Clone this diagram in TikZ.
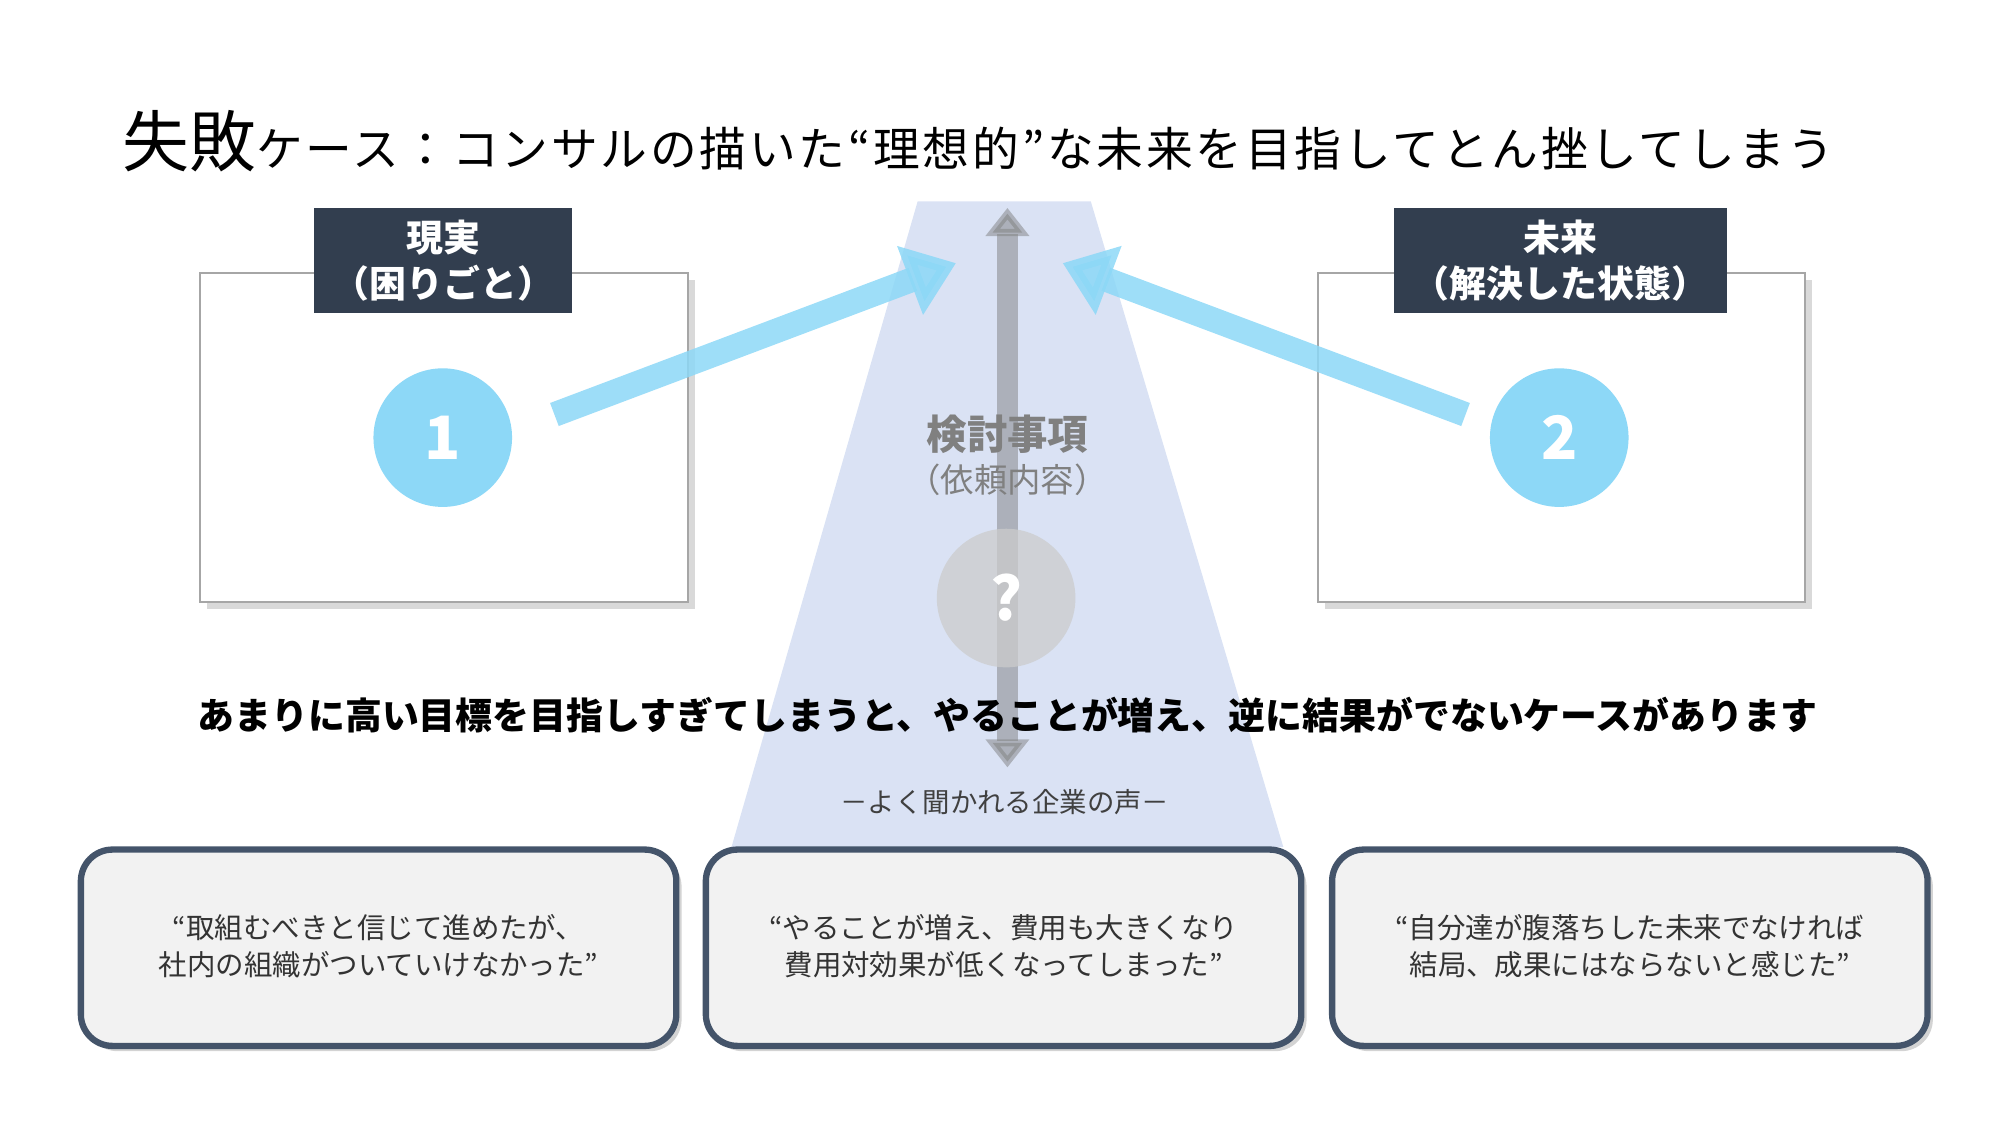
\documentclass[tikz,border=0pt]{standalone}
\usepackage{fontspec}
\setmainfont{Noto Sans CJK JP}
\newfontfamily\titlefont[LetterSpace=6]{Noto Sans CJK JP}
\usetikzlibrary{arrows.meta,shadows}
\definecolor{navy}{HTML}{323E4F}
\definecolor{sky}{HTML}{8DD8F7}
\definecolor{bdr}{HTML}{44546A}
\definecolor{lav}{HTML}{D3DDF2}
\begin{document}
\begin{tikzpicture}[x=0.01283cm,y=-0.01283cm,
  lbl/.style={fill=navy,text=white,font=\bfseries\fontsize{10.5}{13}\selectfont,align=center,inner sep=0pt},
  frame/.style={draw=gray!70,fill=white,line width=0.6pt,drop shadow={opacity=0.3,shadow xshift=2pt,shadow yshift=-2pt}},
  num/.style={circle,fill=sky,text=white,minimum size=108*0.01283cm,inner sep=0pt,font=\bfseries\fontsize{17}{17}\selectfont},
  quote/.style={draw=bdr,line width=1.8pt,fill=black!5,rounded corners=9pt,drop shadow={opacity=0.35,shadow xshift=1.5pt,shadow yshift=-1.5pt}},
  qt/.style={font=\fontsize{8.1}{10.5}\selectfont,align=center,text=black!80},
  bigarrow/.style={draw=sky,opacity=0.85,line width=7pt,-{Triangle[length=14pt,width=20pt]}}]
\useasboundingbox (0,0) rectangle (1560,878);
% boxes
\node[frame,minimum width=380*0.01283cm,minimum height=256*0.01283cm,anchor=north west,inner sep=0] (L) at (155,212) {};
\node[frame,minimum width=380*0.01283cm,minimum height=256*0.01283cm,anchor=north west,inner sep=0] (R) at (1026,212) {};
\node[lbl,minimum width=201*0.01283cm,minimum height=82*0.01283cm] (LL) at (345.5,203) {現実\\（困りごと）};
\node[lbl,minimum width=260*0.01283cm,minimum height=82*0.01283cm] (RL) at (1216,203) {未来\\（解決した状態）};
% trapezoid
\fill[lav,fill opacity=0.85] (715,157) -- (850,157) -- (1000,660) -- (570,660) -- cycle;
% vertical double arrow
\coordinate (vt) at (785,162); \coordinate (vb) at (785,598);
\draw[gray,opacity=0.5,line width=6pt,{Triangle[length=8pt,width=12pt]}-{Triangle[length=8pt,width=12pt]}] (vt) -- (vb);
\node[num] (n1) at (345,341) {1};
\node[num] (n2) at (1215,341) {2};
\coordinate (a1) at (745,205); \coordinate (a2) at (828,205);
\draw[bigarrow] (432,323) -- (a1);
\draw[bigarrow] (1142,323) -- (a2);
\node[font=\bfseries\fontsize{11.5}{13}\selectfont,text=gray] (k1) at (785,338) {検討事項};
\node[font=\fontsize{9.5}{11}\selectfont,text=gray] (k2) at (785,374) {（依頼内容）};
\node[circle,fill=gray!40,fill opacity=0.75,text=white,text opacity=1,minimum size=108*0.01283cm,inner sep=0,font=\bfseries\fontsize{17}{17}\selectfont] (q) at (784,466) {?};
% title
\node[anchor=west,inner sep=0] (t) at (95,110) {{\fontsize{19}{20}\selectfont 失敗}{\titlefont\fontsize{13.3}{15}\selectfont ケース：コンサルの描いた“理想的”な未来を目指してとん挫してしまう}};
\node[font=\bfseries\fontsize{10.5}{12}\selectfont] (s) at (785,557) {あまりに高い目標を目指しすぎてしまうと、やることが増え、逆に結果がでないケースがあります};
\node[font=\fontsize{7.8}{9}\selectfont,text=black!75] (v) at (783,625) {－よく聞かれる企業の声－};
% quotes
\draw[quote] (63,662) rectangle (527,815);
\draw[quote] (550,662) rectangle (1014,815);
\draw[quote] (1038,662) rectangle (1502,815);
\node[qt] (q1) at (295,737) {“取組むべきと信じて進めたが、\\社内の組織がついていけなかった”};
\node[qt] (q2) at (782,737) {“やることが増え、費用も大きくなり\\費用対効果が低くなってしまった”};
\node[qt] (q3) at (1270,737) {“自分達が腹落ちした未来でなければ\\結局、成果にはならないと感じた”};
\end{tikzpicture}
\end{document}
